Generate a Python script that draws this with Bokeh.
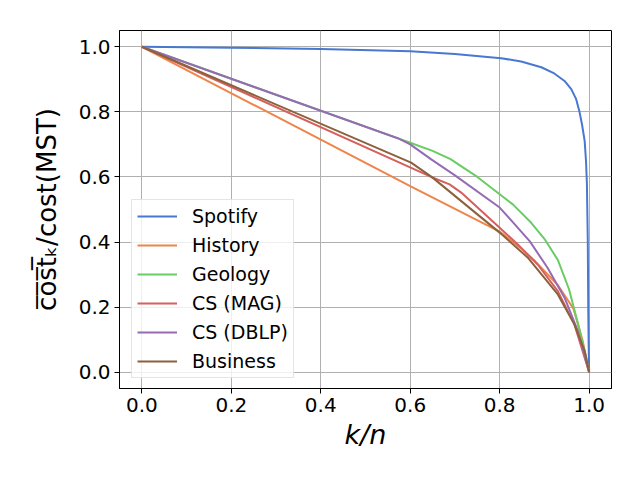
from bokeh.plotting import figure
from bokeh.models import Range1d, FixedTicker, NumeralTickFormatter, Legend, LegendItem
from bokeh.embed import file_html
from bokeh.resources import INLINE

# ---- data ----
spotify_x = [0.0, 0.2, 0.4, 0.6, 0.7, 0.803, 0.848, 0.893, 0.922, 0.945, 0.96, 0.971, 0.978,
             0.984, 0.99, 0.993, 0.995, 0.997, 0.998, 0.999, 1.0]
spotify_y = [1.0, 0.997, 0.993, 0.986, 0.978, 0.965, 0.955, 0.937, 0.918, 0.895, 0.87, 0.839, 0.803,
             0.762, 0.711, 0.649, 0.58, 0.40, 0.20, 0.08, 0.0]

history_x = [0.0, 0.6, 0.8, 0.85, 0.88, 0.93, 0.965, 0.985, 1.0]
history_y = [1.0, 0.572, 0.432, 0.378, 0.34, 0.268, 0.195, 0.10, 0.0]

geology_x = [0.0, 0.57, 0.6, 0.65, 0.69, 0.75, 0.8, 0.83, 0.87, 0.9, 0.93, 0.955, 0.975, 0.993, 1.0]
geology_y = [1.0, 0.72, 0.705, 0.68, 0.655, 0.60, 0.547, 0.515, 0.46, 0.41, 0.345, 0.255, 0.15, 0.045, 0.0]

csmag_x = [0.0, 0.647, 0.688, 0.714, 0.8, 0.84, 0.885, 0.93, 0.967, 1.0]
csmag_y = [1.0, 0.60, 0.577, 0.552, 0.444, 0.393, 0.331, 0.249, 0.147, 0.0]

csdblp_x = [0.0, 0.572, 0.6, 0.647, 0.7, 0.8, 0.867, 0.907, 0.945, 0.975, 1.0]
csdblp_y = [1.0, 0.719, 0.70, 0.654, 0.605, 0.506, 0.403, 0.321, 0.229, 0.126, 0.0]

business_x = [0.0, 0.602, 0.65, 0.8, 0.863, 0.93, 0.967, 0.99, 1.0]
business_y = [1.0, 0.644, 0.598, 0.429, 0.352, 0.239, 0.147, 0.065, 0.0]

series_names = ["Spotify", "History", "Geology", "CS (MAG)", "CS (DBLP)", "Business"]
series_colors = ["#4878d0", "#ee854a", "#6acc64", "#d65f5f", "#956cb4", "#8c613c"]
series_data = [(spotify_x, spotify_y), (history_x, history_y), (geology_x, geology_y),
               (csmag_x, csmag_y), (csdblp_x, csdblp_y), (business_x, business_y)]

ticks = [0.0, 0.2, 0.4, 0.6, 0.8, 1.0]

x_label = "k/n"
y_label = "c\u0305o\u0305s\u0305t\u0305\u2096/cost(MST)"

p = figure(width=624, height=464, output_backend="svg", toolbar_location=None,
           x_range=Range1d(-0.05, 1.05), y_range=Range1d(-0.05, 1.05),
           min_border_left=119, min_border_right=13, min_border_top=30, min_border_bottom=76)

p.outline_line_color = "black"
p.outline_line_width = 1
p.background_fill_color = "white"
p.border_fill_color = "white"

for ax in (p.xaxis[0], p.yaxis[0]):
    ax.ticker = FixedTicker(ticks=ticks)
    ax.formatter = NumeralTickFormatter(format="0.0")
    ax.major_label_text_font = "DejaVu Sans"
    ax.major_label_text_font_size = "20px"
    ax.major_label_text_color = "black"
    ax.major_tick_out = 5
    ax.major_tick_in = 0
    ax.minor_tick_out = 0
    ax.minor_tick_in = 0
    ax.major_label_standoff = 4
    ax.axis_line_color = "black"
    ax.major_tick_line_color = "black"
    ax.axis_label_text_font = "DejaVu Sans"
    ax.axis_label_text_color = "black"

p.xaxis.axis_label = x_label
p.xaxis.axis_label_text_font_size = "27px"
p.xaxis.axis_label_text_font_style = "italic"
p.xaxis.axis_label_standoff = 4
p.yaxis.axis_label = y_label
p.yaxis.axis_label_text_font_size = "26px"
p.yaxis.axis_label_text_font_style = "normal"
p.yaxis.axis_label_standoff = 14

p.grid.grid_line_color = "#b0b0b0"
p.grid.grid_line_width = 1
p.xgrid.ticker = FixedTicker(ticks=ticks)
p.ygrid.ticker = FixedTicker(ticks=ticks)

items = []
for name, color, (xs, ys) in zip(series_names, series_colors, series_data):
    r = p.line(xs, ys, line_color=color, line_width=2)
    items.append(LegendItem(label=name, renderers=[r]))

legend = Legend(items=items, location=(12, 10))
legend.label_text_font = "DejaVu Sans"
legend.label_text_font_size = "19px"
legend.label_text_color = "black"
legend.glyph_width = 40
legend.glyph_height = 20
legend.label_height = 20
legend.label_standoff = 15
legend.spacing = 7
legend.padding = 5
legend.margin = 0
legend.border_line_color = "#cccccc"
legend.border_line_width = 1
legend.background_fill_alpha = 0.8
p.add_layout(legend, "center")

open("out.html", "w").write(file_html(p, INLINE))
